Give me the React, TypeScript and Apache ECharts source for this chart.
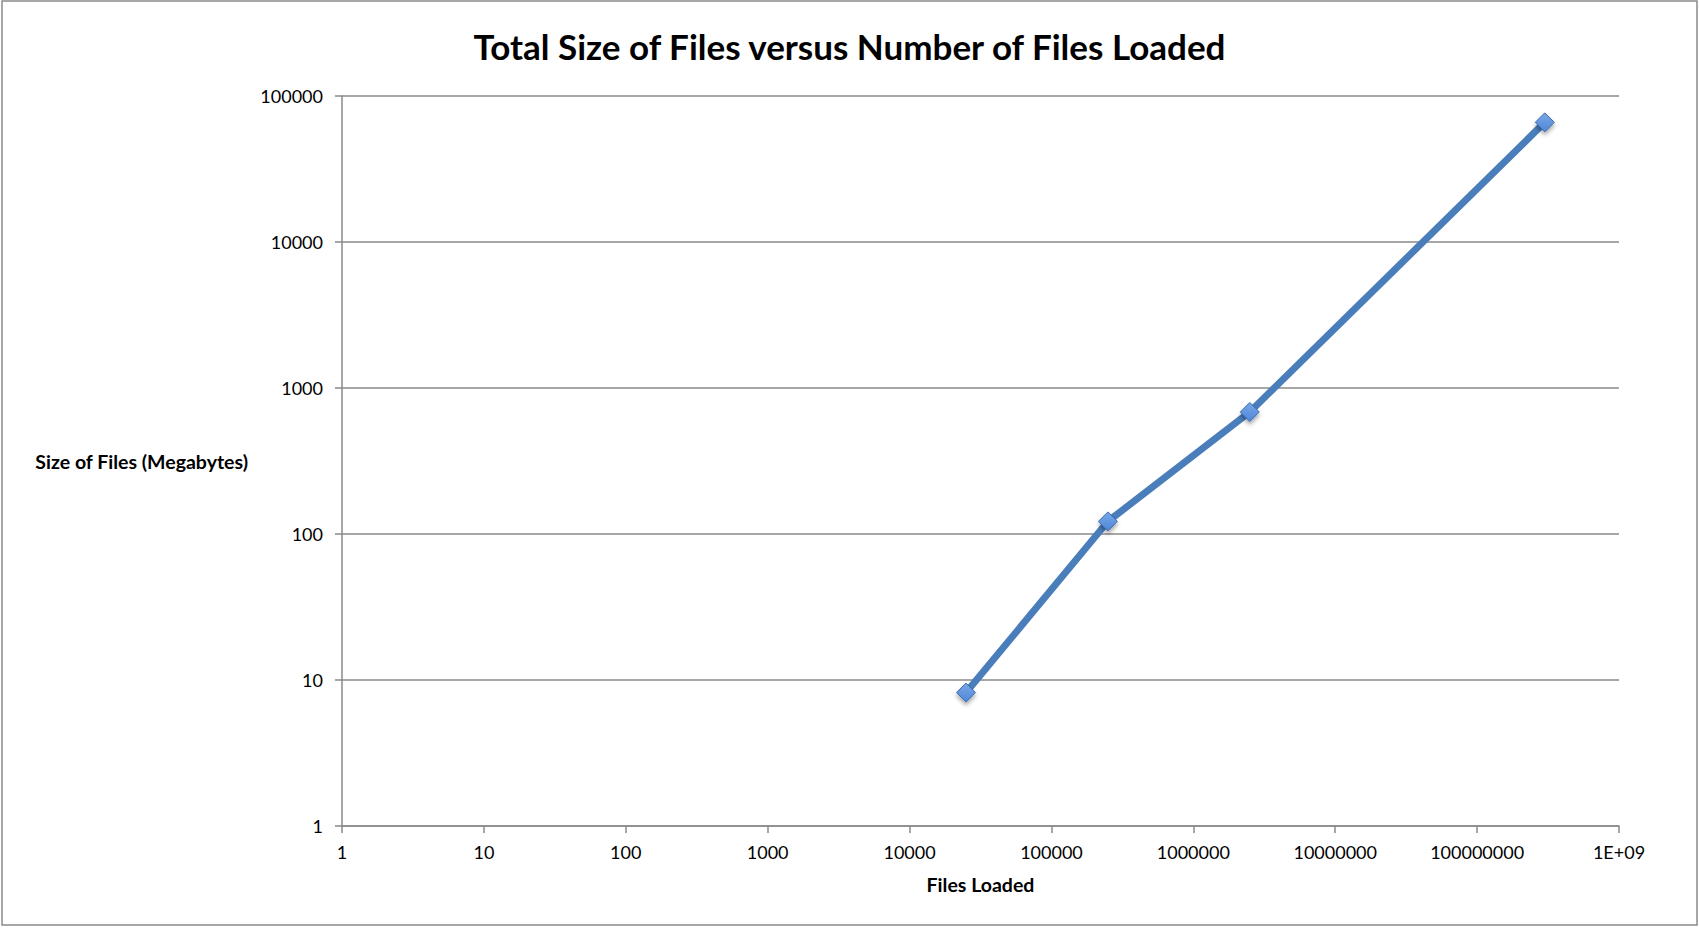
import React, { useEffect, useRef } from "react";
import * as echarts from "echarts";

const filesLoaded = [25000, 250000, 2500000, 300000000];
const sizeMegabytes = [8.2, 122, 685, 66000];
const xTickLabels = ["1", "10", "100", "1000", "10000", "100000", "1000000", "10000000", "100000000", "1E+09"];
const yTickLabels = ["1", "10", "100", "1000", "10000", "100000"];

const FONT = "Lato, 'Liberation Sans', sans-serif";
const GRID_COLOR = "#8a8a8a";

export default function App() {
  const ref = useRef<HTMLDivElement>(null);
  useEffect(() => {
    if (!ref.current) return;
    const chart = echarts.init(ref.current, null, { renderer: "svg" });
    chart.setOption({
      animation: false,
      backgroundColor: "#ffffff",
      title: {
        text: "Total Size of Files versus Number of Files Loaded",
        left: "center",
        top: 23,
        textStyle: { fontFamily: FONT, fontWeight: "bold", fontSize: 35, color: "#000" },
      },
      graphic: [
        {
          type: "rect",
          shape: { x: 2, y: 1, width: 1695, height: 924 },
          style: { fill: "none", stroke: "#8a8a8a", lineWidth: 1.5 },
          silent: true,
        },
      ],
      grid: { left: 342, right: 80, top: 96, bottom: 102 },
      xAxis: {
        type: "log",
        logBase: 10,
        min: 1,
        max: 1e9,
        name: "Files Loaded",
        nameLocation: "middle",
        nameGap: 48,
        nameTextStyle: { fontFamily: FONT, fontWeight: "bold", fontSize: 19.5, color: "#000" },
        axisLine: { show: true, lineStyle: { color: GRID_COLOR, width: 1.5 } },
        axisTick: { show: true, length: 7, lineStyle: { color: GRID_COLOR, width: 1.5 } },
        minorTick: { show: false },
        splitLine: { show: false },
        axisLabel: {
          margin: 17,
          fontFamily: FONT,
          fontSize: 18,
          color: "#000",
          formatter: (v: number) => xTickLabels[Math.round(Math.log10(v))] ?? String(v),
        },
      },
      yAxis: {
        type: "log",
        logBase: 10,
        min: 1,
        max: 100000,
        name: "Size of Files (Megabytes)",
        nameLocation: "middle",
        nameRotate: 0,
        nameGap: 94,
        nameTextStyle: { fontFamily: FONT, fontWeight: "bold", fontSize: 19.5, color: "#000", align: "right", verticalAlign: "middle" },
        axisLine: { show: true, lineStyle: { color: GRID_COLOR, width: 1.5 } },
        axisTick: { show: true, length: 7, lineStyle: { color: GRID_COLOR, width: 1.5 } },
        minorTick: { show: false },
        splitLine: { show: true, lineStyle: { color: GRID_COLOR, width: 1.5 } },
        axisLabel: {
          margin: 19,
          fontFamily: FONT,
          fontSize: 18,
          color: "#000",
          formatter: (v: number) => yTickLabels[Math.round(Math.log10(v))] ?? String(v),
        },
      },
      series: [
        {
          type: "line",
          data: filesLoaded.map((x, i) => [x, sizeMegabytes[i]]),
          symbol: "diamond",
          symbolSize: 19,
          lineStyle: { color: "#4a7ebb", width: 7 },
          itemStyle: {
            color: new echarts.graphic.LinearGradient(0, 0, 0, 1, [
              { offset: 0, color: "#7aa8e8" },
              { offset: 1, color: "#4f86d6" },
            ]),
            borderColor: "#3d6db0",
            borderWidth: 1,
            shadowBlur: 4,
            shadowOffsetY: 3,
            shadowColor: "rgba(0,0,0,0.35)",
          },
          z: 3,
        },
      ],
    });
    return () => chart.dispose();
  }, []);
  return (
    <div
      ref={ref}
      style={{ position: "absolute", left: 0, top: 0, width: 1699, height: 928 }}
    />
  );
}
